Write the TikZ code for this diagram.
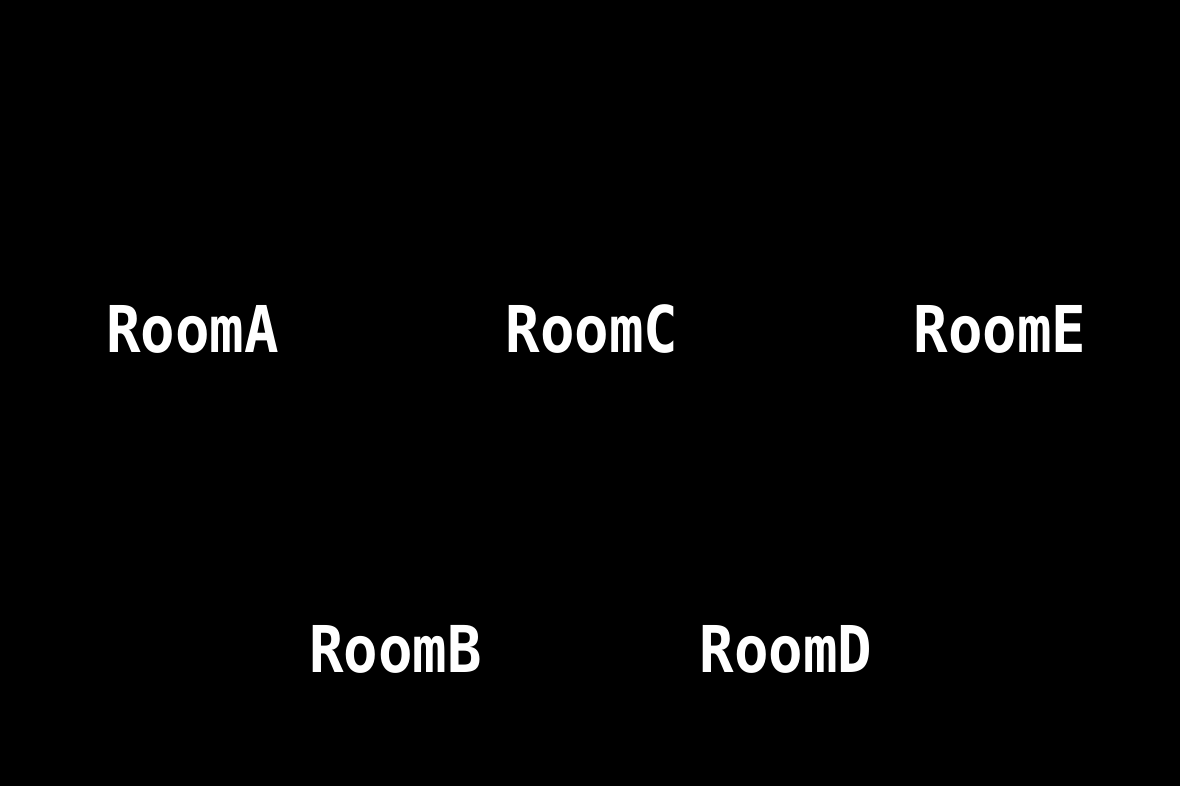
\documentclass[tikz,border=0pt]{standalone}
\usepackage{fontspec}
\newfontfamily\pixfont[FakeStretch=0.89]{DejaVu Sans Mono Bold}
\begin{document}
\begin{tikzpicture}[x=1pt,y=1pt,
  room/.style={text=white, inner sep=0pt, anchor=base, font=\pixfont\fontsize{64.5}{70}\selectfont}]
\fill[black] (0,0) rectangle (1180,786);
\useasboundingbox (0,0) rectangle (1180,786);
\node[room] (roomA) at (192.5,433) {RoomA};
\node[room] (roomC) at (592,433) {RoomC};
\node[room] (roomE) at (1000,433) {RoomE};
\node[room] (roomB) at (395.5,113) {RoomB};
\node[room] (roomD) at (786,113) {RoomD};
\end{tikzpicture}
\end{document}
